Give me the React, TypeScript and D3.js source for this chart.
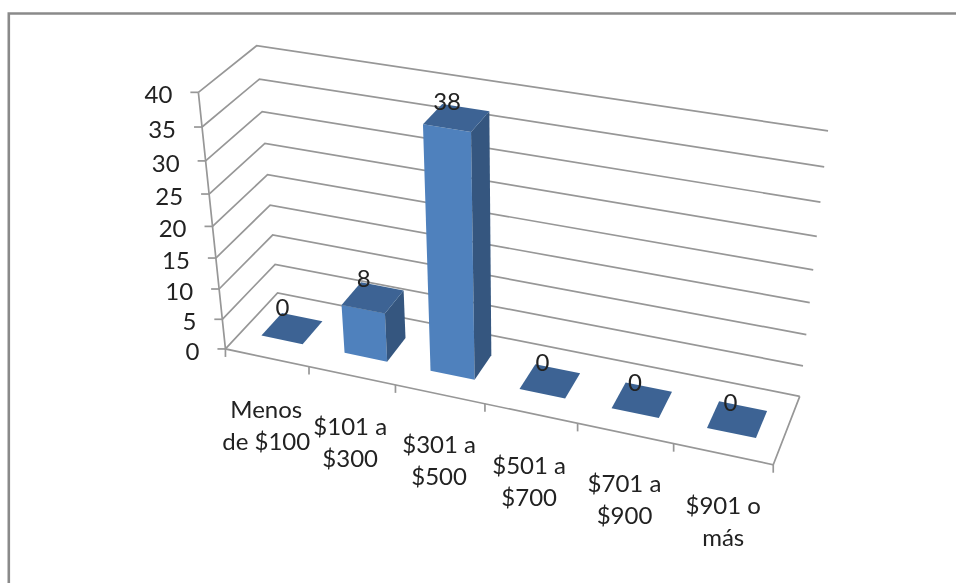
import * as d3 from 'd3';

const categories = [['Menos', 'de $100'], ['$101 a', '$300'], ['$301 a', '$500'], ['$501 a', '$700'], ['$701 a', '$900'], ['$901 o', 'más']];
const values = [0, 8, 38, 0, 0, 0];
const yTicks = [0, 5, 10, 15, 20, 25, 30, 35, 40];

const FONT = 'Lato, sans-serif';
const FONT_SIZE = 24;
const GRID = '#979797';

// small manual shifts for the category labels, excel moved these around
const labelShiftX = [0, -1, 0, -1, 0, 1];
const labelShiftY = [3, 2, 1, 3, 1, 2];

// where the corners of the 3D box land on the page: [x, depth, value] -> [px, py]
const corners: [number[], number[]][] = [
  [[0, 0, 0], [226, 349]],
  [[1, 0, 0], [773, 465]],
  [[0, 1, 0], [277, 293]],
  [[1, 1, 0], [800, 396]],
  [[0, 0, 40], [198, 92]],
  [[0, 1, 40], [257, 46]],
  [[1, 1, 40], [828, 131]]
];

// least squares camera matrix from the corners
function solveCamera(pts: [number[], number[]][]) {
  const rows: number[][] = [];
  pts.forEach(([[a, b, c], [x, y]]) => {
    rows.push([a, b, c, 1, 0, 0, 0, 0, -x * a, -x * b, -x * c, x]);
    rows.push([0, 0, 0, 0, a, b, c, 1, -y * a, -y * b, -y * c, y]);
  });
  const n = 11;
  const m = d3.range(n).map(i =>
    d3.range(n + 1).map(j => d3.sum(rows, r => r[i] * r[j]))
  );
  for (let i = 0; i < n; i++) {
    let p = i;
    for (let k = i + 1; k < n; k++) if (Math.abs(m[k][i]) > Math.abs(m[p][i])) p = k;
    [m[i], m[p]] = [m[p], m[i]];
    for (let k = 0; k < n; k++) {
      if (k === i) continue;
      const f = m[k][i] / m[i][i];
      for (let j = i; j <= n; j++) m[k][j] -= f * m[i][j];
    }
  }
  return m.map((r, i) => r[n] / r[i]);
}

const cam = solveCamera(corners.map(([[a, b, c], p]) => [[a, b, c / 40], p]));

const xBand = d3.scaleBand<number>().domain(d3.range(categories.length)).range([0, 1]).paddingInner(0.5).paddingOuter(0.25).align(0.485);
const xStep = d3.scaleLinear().domain([0, categories.length]).range([0, 1]);
const yScale = d3.scaleLinear().domain([0, 40]).range([0, 1]);
const depth = d3.scaleLinear().domain([0, 1]).range([0.3, 0.7]);

function project(u: number, d: number, value: number): [number, number] {
  const v = yScale(value);
  const w = cam[8] * u + cam[9] * d + cam[10] * v + 1;
  return [
    (cam[0] * u + cam[1] * d + cam[2] * v + cam[3]) / w,
    (cam[4] * u + cam[5] * d + cam[6] * v + cam[7]) / w
  ];
}

const line = d3.line();
const face = (pts: [number, number][]) => line(pts) + 'Z';

export default function App() {
  return (
    <svg width={956} height={583} style={{ position: 'fixed', left: 0, top: 0, background: '#fff' }}>
      <defs>
        <filter id="soft" x="0" y="0" width="1" height="1" filterUnits="objectBoundingBox">
          <feGaussianBlur stdDeviation={0.45} />
        </filter>
      </defs>
      <g filter="url(#soft)">
        <rect width={956} height={583} fill="#fff" />
        <path d="M8.8,590V13.5H960" fill="none" stroke="#8a8a8a" strokeWidth={2.6} />

        {/* walls */}
        {yTicks.map(t => (
          <g key={t} fill="none" stroke={GRID} strokeWidth={1.7}>
            <path d={line([project(0, 0, t), project(0, 1, t), project(1, 1, t)]) as string} />
            <path d={line([[project(0, 0, t)[0] - 8, project(0, 0, t)[1]], project(0, 0, t)]) as string} />
          </g>
        ))}
        <g fill="none" stroke={GRID} strokeWidth={1.7}>
          <path d={line([project(0, 0, 40), project(0, 0, 0), project(1, 0, 0), project(1, 1, 0)]) as string} />
          {d3.range(categories.length + 1).map(i => {
            const p = project(xStep(i), 0, 0);
            return <path key={i} d={line([p, [p[0], p[1] + 8]]) as string} />;
          })}
        </g>

        {/* y labels */}
        {yTicks.map(t => {
          const p = project(0, 0, t);
          return (
            <text key={t} x={p[0] - 26} y={p[1] + 2} dy="0.36em" textAnchor="end" fontFamily={FONT} fontSize={FONT_SIZE} fill="#222">
              {t}
            </text>
          );
        })}

        {/* bars */}
        {values.map((val, i) => {
          const u0 = xBand(i) as number;
          const u1 = u0 + xBand.bandwidth();
          const d0 = depth(0);
          const d1 = depth(1);
          return (
            <g key={i}>
              {val > 0 && <path d={face([project(u0, d0, 0), project(u1, d0, 0), project(u1, d0, val), project(u0, d0, val)])} fill="#4f81bd" />}
              {val > 0 && <path d={face([project(u1, d0, 0), project(u1, d1, 0), project(u1, d1, val), project(u1, d0, val)])} fill="#34567f" />}
              <path d={face([project(u0, d0, val), project(u1, d0, val), project(u1, d1, val), project(u0, d1, val)])} fill="#3c6494" />
            </g>
          );
        })}

        {/* value labels */}
        {values.map((val, i) => {
          const u = xBand(i) as number;
          const p = project(u, depth(1), val);
          return (
            <text key={i} x={p[0] + 13 * u} y={p[1] - 6 + 8 * u} dy="0.36em" textAnchor="middle" fontFamily={FONT} fontSize={FONT_SIZE} fill="#222">
              {val}
            </text>
          );
        })}

        {/* category labels */}
        {categories.map((lines, i) => {
          const p = project((xBand(i) as number) + xBand.bandwidth() / 2, 0, 0);
          return (
            <text key={i} textAnchor="middle" fontFamily={FONT} fontSize={FONT_SIZE} fill="#222">
              {lines.map((l, j) => (
                <tspan key={j} x={p[0] + labelShiftX[i]} y={p[1] + 49 + labelShiftY[i] + j * 32} dy="0.36em">{l}</tspan>
              ))}
            </text>
          );
        })}
      </g>
    </svg>
  );
}
